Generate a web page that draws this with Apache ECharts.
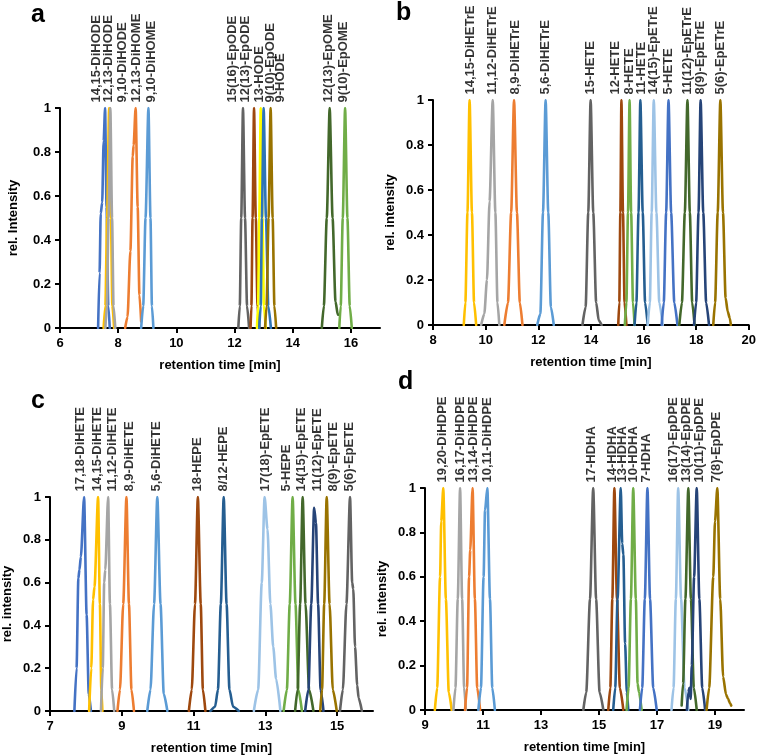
<!DOCTYPE html>
<html>
<head>
<meta charset="utf-8">
<script src="https://cdn.jsdelivr.net/npm/echarts@6/dist/echarts.min.js"></script>
<style>
  html, body { margin: 0; padding: 0; background: #fff; }
  #main { width: 759px; height: 756px; }
</style>
</head>
<body>
<div id="main"></div>
<script>
// tick labels of the x axes
var aTicks = [6, 8, 10, 12, 14, 16];
var bTicks = [8, 10, 12, 14, 16, 18, 20];
var cTicks = [7, 9, 11, 13, 15];
var dTicks = [9, 11, 13, 15, 17, 19];

// panel a - linoleic acid
var aNames = ['14,15-DiHODE', '12,13-DiHODE', '9,10-DiHODE', '12,13-DiHOME', '9,10-DiHOME',
  '15(16)-EpODE', '12(13)-EpODE', '13-HODE', '9(10)-EpODE', '9-HODE', '12(13)-EpOME', '9(10)-EpOME'];
var aLabelAt = [7.25, 7.65, 8.16, 8.64, 9.13, 11.92, 12.38, 12.86, 13.24, 13.58, 15.23, 15.74];
var aColors = ['#4472C4', '#FFC000', '#A5A5A5', '#ED7D31', '#5B9BD5',
  '#636363', '#9E480E', '#FFFF00', '#2E75B6', '#997300', '#43682B', '#70AD47'];
var aPeaks = [
  [[7.31,0],[7.36,0.25],[7.40,0.52],[7.45,0.57],[7.50,0.85],[7.55,1],[7.60,0.55],[7.66,0.1],[7.71,0]],
  [[7.50,0],[7.56,0.1],[7.62,0.5],[7.69,1],[7.75,0.5],[7.80,0.1],[7.86,0]],
  [[7.56,0],[7.61,0.1],[7.67,0.5],[7.73,1],[7.79,0.5],[7.84,0.1],[7.90,0]],
  [[8.24,0],[8.32,0.05],[8.42,0.35],[8.50,0.78],[8.53,0.83],[8.60,1],[8.67,0.55],[8.73,0.15],[8.79,0.03]],
  [[8.79,0],[8.86,0.1],[8.94,0.5],[9.04,1],[9.11,0.5],[9.16,0.1],[9.21,0]],
  [[12.13,0],[12.18,0.1],[12.23,0.5],[12.29,1],[12.36,0.5],[12.43,0.1],[12.50,0]],
  [[12.55,0],[12.58,0.1],[12.62,0.5],[12.67,1],[12.73,0.5],[12.79,0.1],[12.85,0]],
  [[12.77,0],[12.81,0.1],[12.85,0.5],[12.90,1],[12.96,0.5],[13.01,0.1],[13.07,0]],
  [[12.85,0],[12.90,0.1],[12.94,0.5],[13.00,1],[13.08,0.5],[13.16,0.1],[13.25,0]],
  [[13.05,0],[13.10,0.1],[13.17,0.5],[13.24,1],[13.31,0.5],[13.37,0.1],[13.43,0]],
  [[15.00,0],[15.07,0.1],[15.17,0.5],[15.27,1],[15.37,0.5],[15.47,0.12],[15.55,0.06],[15.60,0.06]],
  [[15.60,0],[15.65,0.1],[15.72,0.5],[15.80,1],[15.88,0.5],[15.96,0.1],[16.03,0]]
];

// panel b - arachidonic acid
var bNames = ['14,15-DiHETrE', '11,12-DiHETrE', '8,9-DiHETrE', '5,6-DiHETrE', '15-HETE', '12-HETE', '8-HETE',
  '11-HETE', '14(15)-EpETrE', '5-HETE', '11(12)-EpETrE', '8(9)-EpETrE', '5(6)-EpETrE'];
var bLabelAt = [9.42, 10.27, 11.12, 12.28, 13.99, 14.95, 15.47, 15.91, 16.39, 16.94, 17.67, 18.15, 18.92];
var bColors = ['#FFC000', '#A5A5A5', '#ED7D31', '#5B9BD5', '#636363', '#9E480E', '#70AD47',
  '#255E91', '#9DC3E6', '#4472C4', '#43682B', '#264478', '#997300'];
var bPeaks = [
  [[9.17,0],[9.23,0.1],[9.31,0.5],[9.39,1],[9.48,0.5],[9.56,0.1],[9.64,0]],
  [[9.83,0],[9.95,0.05],[10.05,0.2],[10.15,0.55],[10.27,1],[10.37,0.5],[10.45,0.1],[10.52,0]],
  [[10.71,0],[10.85,0.1],[10.97,0.5],[11.08,1],[11.19,0.5],[11.30,0.1],[11.40,0]],
  [[11.96,0],[12.08,0.05],[12.18,0.5],[12.28,1],[12.38,0.5],[12.48,0.08],[12.59,0]],
  [[13.68,0],[13.80,0.08],[13.90,0.5],[13.99,1],[14.09,0.5],[14.20,0.1],[14.30,0.02],[14.41,0]],
  [[15.04,0],[15.08,0.1],[15.12,0.5],[15.16,1],[15.22,0.5],[15.28,0.1],[15.35,0]],
  [[15.29,0],[15.35,0.1],[15.41,0.5],[15.47,1],[15.53,0.5],[15.60,0.1],[15.66,0]],
  [[15.66,0],[15.73,0.1],[15.81,0.5],[15.88,1],[15.97,0.5],[16.06,0.1],[16.16,0]],
  [[16.16,0],[16.24,0.1],[16.31,0.5],[16.39,1],[16.49,0.5],[16.60,0.1],[16.73,0]],
  [[16.69,0],[16.77,0.1],[16.86,0.5],[16.95,1],[17.05,0.5],[17.17,0.1],[17.29,0]],
  [[17.36,0],[17.46,0.1],[17.57,0.5],[17.67,1],[17.76,0.5],[17.85,0.1],[17.94,0]],
  [[17.92,0],[18.00,0.1],[18.09,0.5],[18.17,1],[18.27,0.5],[18.38,0.1],[18.49,0]],
  [[18.65,0],[18.72,0.1],[18.82,0.5],[18.92,1],[19.02,0.5],[19.12,0.12],[19.20,0.06],[19.28,0.03],[19.32,0]]
];

// panel c - eicosapentaenoic acid
var cNames = ['17,18-DiHETE', '14,15-DiHETE', '11,12-DiHETE', '8,9-DiHETE', '5,6-DiHETE', '18-HEPE', '8/12-HEPE',
  '17(18)-EpETE', '5-HEPE', '14(15)-EpETE', '11(12)-EpETE', '8(9)-EpETE', '5(6)-EpETE'];
var cLabelAt = [7.86, 8.32, 8.74, 9.20, 9.97, 11.10, 11.84, 13.00, 13.60, 14.00, 14.45, 14.90, 15.34];
var cColors = ['#4472C4', '#FFC000', '#A5A5A5', '#ED7D31', '#5B9BD5', '#9E480E', '#255E91',
  '#9DC3E6', '#70AD47', '#43682B', '#264478', '#997300', '#636363'];
var cPeaks = [
  [[7.68,0],[7.74,0.2],[7.79,0.62],[7.82,0.66],[7.86,0.72],[7.95,1],[8.02,0.45],[8.08,0.08],[8.14,0]],
  [[8.09,0],[8.15,0.2],[8.20,0.52],[8.24,0.58],[8.34,1],[8.39,0.5],[8.43,0.1],[8.46,0]],
  [[8.42,0],[8.47,0.2],[8.51,0.6],[8.54,0.66],[8.62,1],[8.67,0.5],[8.73,0.1],[8.79,0]],
  [[8.88,0],[8.95,0.1],[9.04,0.5],[9.13,1],[9.20,0.5],[9.27,0.1],[9.34,0]],
  [[9.71,0],[9.80,0.1],[9.90,0.5],[9.99,1],[10.08,0.5],[10.17,0.08],[10.27,0]],
  [[10.87,0],[10.95,0.1],[11.04,0.5],[11.12,1],[11.20,0.5],[11.26,0.1],[11.33,0]],
  [[11.47,0],[11.60,0.02],[11.68,0.1],[11.76,0.5],[11.84,1],[11.92,0.5],[12.00,0.1],[12.10,0.02],[12.26,0]],
  [[12.68,0],[12.80,0.1],[12.90,0.6],[12.98,1],[13.06,0.85],[13.14,0.5],[13.22,0.3],[13.30,0.15],[13.42,0]],
  [[13.51,0],[13.60,0.1],[13.68,0.5],[13.76,1],[13.84,0.5],[13.92,0.1],[14.02,0]],
  [[13.83,0],[13.90,0.1],[13.97,0.5],[14.04,1],[14.12,0.5],[14.22,0.1],[14.34,0]],
  [[14.11,0],[14.20,0.1],[14.28,0.5],[14.36,0.95],[14.41,0.88],[14.47,0.5],[14.54,0.1],[14.62,0]],
  [[14.53,0],[14.58,0.1],[14.64,0.5],[14.71,1],[14.79,0.5],[14.88,0.1],[14.99,0]],
  [[15.08,0],[15.16,0.1],[15.26,0.5],[15.36,1],[15.42,0.6],[15.45,0.57],[15.50,0.3],[15.56,0.12],[15.60,0.06],[15.69,0]]
];

// panel d - docosahexaenoic acid
var dNames = ['19,20-DiHDPE', '16,17-DiHDPE', '13,14-DiHDPE', '10,11-DiHDPE', '17-HDHA', '14-HDHA', '13-HDHA',
  '10-HDHA', '7-HDHA', '16(17)-EpDPE', '13(14)-EpDPE', '10(11)-EpDPE', '7(8)-EpDPE'];
var dLabelAt = [9.60, 10.21, 10.67, 11.15, 14.75, 15.46, 15.80, 16.18, 16.65, 17.57, 18.03, 18.45, 19.06];
var dColors = ['#FFC000', '#A5A5A5', '#ED7D31', '#5B9BD5', '#636363', '#9E480E', '#255E91',
  '#70AD47', '#4472C4', '#9DC3E6', '#43682B', '#264478', '#997300'];
var dPeaks = [
  [[9.34,0],[9.42,0.1],[9.52,0.6],[9.56,0.85],[9.63,1],[9.72,0.5],[9.82,0.08],[9.92,0]],
  [[9.98,0],[10.05,0.1],[10.13,0.5],[10.21,1],[10.28,0.5],[10.35,0.1],[10.41,0]],
  [[10.38,0],[10.45,0.1],[10.52,0.6],[10.56,0.72],[10.64,1],[10.72,0.5],[10.80,0.1],[10.90,0]],
  [[10.84,0],[10.93,0.1],[11.02,0.6],[11.07,0.9],[11.15,1],[11.24,0.5],[11.32,0.1],[11.41,0]],
  [[14.46,0],[14.56,0.08],[14.69,0.5],[14.80,1],[14.90,0.5],[15.02,0.08],[15.15,0]],
  [[15.32,0],[15.39,0.1],[15.46,0.5],[15.53,1],[15.62,0.5],[15.72,0.1],[15.84,0]],
  [[15.49,0],[15.56,0.1],[15.64,0.5],[15.75,1],[15.80,0.75],[15.84,0.7],[15.90,0.3],[15.96,0.08],[16.01,0]],
  [[15.95,0],[16.02,0.1],[16.10,0.5],[16.18,1],[16.27,0.5],[16.33,0.12],[16.38,0.08],[16.47,0]],
  [[16.41,0],[16.49,0.1],[16.58,0.5],[16.67,1],[16.76,0.5],[16.87,0.1],[16.99,0]],
  [[17.50,0],[17.57,0.1],[17.65,0.5],[17.73,1],[17.83,0.5],[17.95,0.1],[18.08,0]],
  [[17.85,0.02],[17.90,0.12],[17.98,0.5],[18.08,1],[18.17,0.5],[18.27,0.1],[18.37,0]],
  [[18.03,0],[18.08,0.08],[18.12,0.1],[18.16,0.05],[18.20,0.2],[18.28,0.6],[18.37,1],[18.46,0.5],[18.56,0.1],[18.66,0]],
  [[18.71,0],[18.80,0.1],[18.94,0.6],[19.00,0.85],[19.08,1],[19.18,0.5],[19.28,0.15],[19.38,0.07],[19.45,0.05],[19.52,0.03],[19.56,0.02]]
];

var FONT = 'Liberation Sans, Arial, sans-serif';

var panels = [
  {letter: 'a', names: aNames, at: aLabelAt, colors: aColors, peaks: aPeaks, ticks: aTicks, min: 6, max: 17, yName: 'rel. Intensity',
   grid: {left: 60, top: 108, width: 320, height: 220}, lx: 26, ly: -2, yGap: 40},
  {letter: 'b', names: bNames, at: bLabelAt, colors: bColors, peaks: bPeaks, ticks: bTicks, min: 8, max: 20, yName: 'rel. intensity',
   grid: {left: 433, top: 100, width: 319, height: 225}, lx: 391, ly: -4, yGap: 36},
  {letter: 'c', names: cNames, at: cLabelAt, colors: cColors, peaks: cPeaks, ticks: cTicks, min: 7, max: 16, yName: 'rel. intensity',
   grid: {left: 49, top: 497, width: 324, height: 214}, lx: 26, ly: 384, yGap: 36},
  {letter: 'd', names: dNames, at: dLabelAt, colors: dColors, peaks: dPeaks, ticks: dTicks, min: 9, max: 20, yName: 'rel. intensity',
   grid: {left: 425, top: 488, width: 319, height: 222}, lx: 393, ly: 365, yGap: 36}
];

var grids = [], xAxes = [], yAxes = [], series = [], titles = [];
var axisLineStyle = {color: '#000', width: 2};
var tickFont = {color: '#000', fontSize: 13, fontWeight: 'bold', fontFamily: FONT};

panels.forEach(function (p, i) {
  grids.push(p.grid);
  titles.push({
    text: p.letter, left: p.lx, top: p.ly,
    textStyle: {fontSize: 25, fontWeight: 'bold', color: '#000', fontFamily: FONT}
  });
  xAxes.push({
    type: 'value', gridIndex: i, min: p.min, max: p.max, interval: 2,
    name: 'retention time [min]', nameLocation: 'middle', nameGap: 31,
    nameTextStyle: {color: '#000', fontSize: 13, fontWeight: 'bold', fontFamily: FONT},
    axisLine: {show: true, onZero: false, lineStyle: axisLineStyle},
    axisTick: {show: true, length: 5, lineStyle: axisLineStyle, customValues: p.ticks},
    axisLabel: Object.assign({margin: 9, customValues: p.ticks}, tickFont),
    splitLine: {show: false}
  });
  yAxes.push({
    type: 'value', gridIndex: i, min: 0, max: 1, interval: 0.2,
    name: p.yName, nameLocation: 'middle', nameGap: p.yGap,
    nameTextStyle: {color: '#000', fontSize: 13, fontWeight: 'bold', fontFamily: FONT},
    axisLine: {show: true, lineStyle: axisLineStyle},
    axisTick: {show: true, length: 5, lineStyle: axisLineStyle},
    axisLabel: Object.assign({margin: 9}, tickFont),
    splitLine: {show: false}
  });
  p.peaks.forEach(function (pk, j) {
    series.push({
      type: 'line', name: p.names[j], xAxisIndex: i, yAxisIndex: i,
      data: pk, showSymbol: false, symbol: 'none', smooth: 0.25, smoothMonotone: 'x',
      lineStyle: {color: p.colors[j], width: 2.6, join: 'round', cap: 'round'}, silent: true, z: 2
    });
  });
  series.push({
    type: 'scatter', xAxisIndex: i, yAxisIndex: i, symbolSize: 1, silent: true, z: 3,
    itemStyle: {color: 'rgba(0,0,0,0)'},
    data: p.names.map(function (n, j) { return {name: n, value: [p.at[j], 1]}; }),
    label: {
      show: true, position: 'top', distance: 5, rotate: 90, align: 'left', verticalAlign: 'middle',
      formatter: '{b}', color: '#000', fontSize: 13, fontWeight: 'bold', fontFamily: FONT
    }
  });
});

var myChart = echarts.init(document.getElementById('main'), null, {renderer: 'canvas'});
var option = {
  backgroundColor: '#fff',
  animation: false,
  title: titles,
  grid: grids,
  xAxis: xAxes,
  yAxis: yAxes,
  series: series
};
myChart.setOption(option);
</script>
</body>
</html>
